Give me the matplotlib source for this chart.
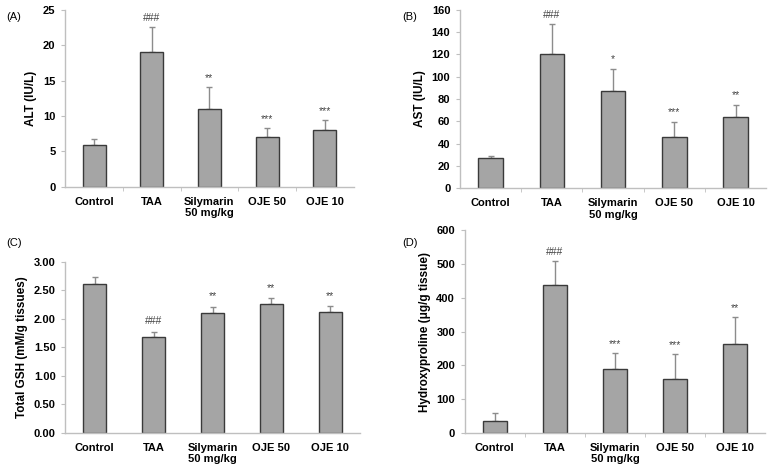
import matplotlib
matplotlib.use("Agg")
import matplotlib.pyplot as plt
import numpy as np

plt.rcParams['font.family'] = ['Liberation Sans', 'DejaVu Sans']

categories = ["Control", "TAA", "Silymarin\n50 mg/kg", "OJE 50", "OJE 10"]

alt_mean = [5.9, 19.1, 11.05, 7.05, 8.0]
alt_err = [0.8, 3.5, 3.0, 1.2, 1.4]
alt_sig = ["", "###", "**", "***", "***"]

ast_mean = [27.5, 120, 87, 46, 64]
ast_err = [1.0, 27, 20, 13.5, 11]
ast_sig = ["", "###", "*", "***", "**"]

gsh_mean = [2.61, 1.69, 2.11, 2.26, 2.12]
gsh_err = [0.13, 0.08, 0.10, 0.10, 0.10]
gsh_sig = ["", "###", "**", "**", "**"]

hyp_mean = [36, 438, 188, 160, 262]
hyp_err = [22, 70, 49, 73, 81]
hyp_sig = ["", "###", "***", "***", "**"]

panels = [
    dict(pos=[0.084, 0.600, 0.371, 0.379], mean=alt_mean, err=alt_err, sig=alt_sig,
         ylim=(0, 25), yticks=np.arange(0, 26, 5), fmt="{:.0f}", ylabel="ALT (IU/L)",
         label="(A)", labpos=(0.008, 0.975), sigoff=0.6, xticks=True),
    dict(pos=[0.592, 0.597, 0.394, 0.382], mean=ast_mean, err=ast_err, sig=ast_sig,
         ylim=(0, 160), yticks=np.arange(0, 161, 20), fmt="{:.0f}", ylabel="AST (IU/L)",
         label="(B)", labpos=(0.518, 0.975), sigoff=4, xticks=True),
    dict(pos=[0.084, 0.073, 0.379, 0.366], mean=gsh_mean, err=gsh_err, sig=gsh_sig,
         ylim=(0, 3.0), yticks=np.arange(0, 3.01, 0.5), fmt="{:.2f}", ylabel="Total GSH (mM/g tissues)",
         label="(C)", labpos=(0.008, 0.49), sigoff=0.1, xticks=False),
    dict(pos=[0.598, 0.073, 0.387, 0.434], mean=hyp_mean, err=hyp_err, sig=hyp_sig,
         ylim=(0, 600), yticks=np.arange(0, 601, 100), fmt="{:.0f}", ylabel="Hydroxyproline (\u03bcg/g tissue)",
         label="(D)", labpos=(0.518, 0.49), sigoff=12, xticks=True),
]

fig = plt.figure(figsize=(7.77, 4.67), dpi=100)
x = np.arange(len(categories))
for p in panels:
    ax = fig.add_axes(p["pos"])
    ax.bar(x, p["mean"], width=0.4, color="#a5a5a5", edgecolor="#3a3a3a", linewidth=1.0, zorder=2)
    ax.errorbar(x, p["mean"], yerr=[np.zeros(len(x)), p["err"]], fmt="none",
                ecolor="#8c8c8c", elinewidth=1.0, capsize=2.5, capthick=1.0, zorder=1)
    top = np.array(p["mean"]) + np.array(p["err"])
    for xi, t, s in zip(x, top, p["sig"]):
        if s:
            ax.text(xi, t + p["sigoff"], s, ha="center", va="bottom", fontsize=7.5, color="#444444")
    ax.set_xlim(-0.5, len(x) - 0.5)
    ax.set_ylim(*p["ylim"])
    ax.set_yticks(p["yticks"])
    ax.set_yticklabels([p["fmt"].format(v) for v in p["yticks"]], fontsize=8, fontweight="bold")
    ax.set_xticks(x)
    ax.set_xticklabels(categories, fontsize=8, fontweight="bold")
    ax.tick_params(axis="x", length=0, pad=7)
    ax.tick_params(axis="y", length=3, color="#bfbfbf", direction="out", pad=4)
    if p["xticks"]:
        ax.set_xticks(np.arange(0.5, len(x) - 0.5, 1), minor=True)
        ax.tick_params(axis="x", which="minor", length=3, color="#bfbfbf", direction="out")
    for s in ["top", "right"]:
        ax.spines[s].set_visible(False)
    for s in ["left", "bottom"]:
        ax.spines[s].set_color("#bfbfbf")
        ax.spines[s].set_linewidth(1.0)
    ax.set_ylabel(p["ylabel"], fontsize=8.5, fontweight="bold", labelpad=4)
    fig.text(p["labpos"][0], p["labpos"][1], p["label"], fontsize=8, va="top", ha="left")

fig.savefig("out.png", dpi=100)
